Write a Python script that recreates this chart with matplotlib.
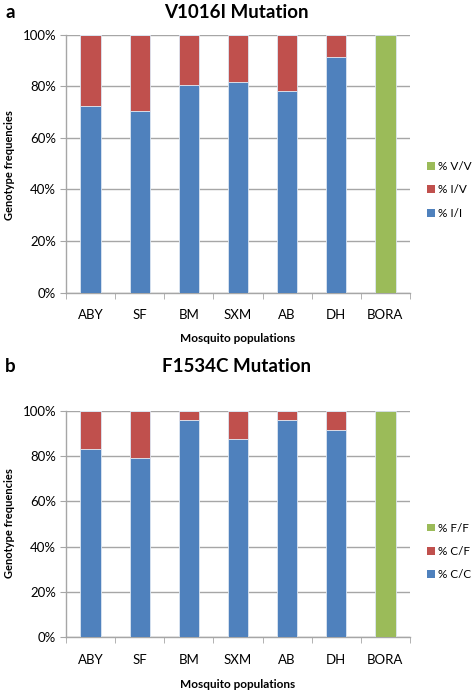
import matplotlib
matplotlib.use("Agg")
import matplotlib.pyplot as plt
from matplotlib.patches import Patch
import numpy as np

plt.rcParams['font.family'] = ['Lato', 'DejaVu Sans']

populations = ['ABY', 'SF', 'BM', 'SXM', 'AB', 'DH', 'BORA']

# Panel a: V1016I mutation (%)
v1016_II = [72.5, 70.5, 80.5, 81.6, 78.0, 91.4, 0]
v1016_IV = [27.5, 29.5, 19.5, 18.4, 22.0, 8.6, 0]
v1016_VV = [0, 0, 0, 0, 0, 0, 100]

# Panel b: F1534C mutation (%)
f1534_CC = [83.4, 79.2, 95.8, 87.7, 95.8, 91.8, 0]
f1534_CF = [16.6, 20.8, 4.2, 12.3, 4.2, 8.2, 0]
f1534_FF = [0, 0, 0, 0, 0, 0, 100]

yticks = [0, 20, 40, 60, 80, 100]
ytick_labels = ['0%', '20%', '40%', '60%', '80%', '100%']

BLUE = '#4F81BD'
RED = '#C0504D'
GREEN = '#9BBB59'
GRID = '#A6A6A6'

W, H = 473, 691
fig = plt.figure(figsize=(W / 100, H / 100), dpi=100)


def panel(rect, low, mid, high, labels, title, letter, title_y, legend_y, ylab_y, xlab_y):
    ax = fig.add_axes(rect)
    x = np.arange(len(populations))
    low = np.array(low)
    mid = np.array(mid)
    high = np.array(high)
    ec = dict(edgecolor='#DCE6F2', linewidth=0.6)
    ax.bar(x, low, width=0.41, color=BLUE, zorder=3, **ec)
    ax.bar(x, mid, width=0.41, bottom=low, color=RED, zorder=3, **ec)
    ax.bar(x, high, width=0.41, bottom=low + mid, color=GREEN, zorder=3, **ec)
    ax.set_xlim(-0.5, len(populations) - 0.5)
    ax.set_ylim(0, 100)
    ax.set_yticks(yticks)
    ax.set_yticklabels(ytick_labels, fontsize=9.5)
    ax.set_xticks(x)
    ax.set_xticklabels(populations, fontsize=9.5)
    ax.set_xticks(np.arange(-0.5, len(populations)), minor=True)
    ax.tick_params(axis='x', which='major', length=0, pad=12)
    ax.tick_params(axis='x', which='minor', length=4, color=GRID, direction='out')
    ax.tick_params(axis='y', length=4, color=GRID, pad=3)
    for s in ['top', 'right']:
        ax.spines[s].set_visible(False)
    for s in ['left', 'bottom']:
        ax.spines[s].set_color(GRID)
        ax.spines[s].set_linewidth(1.0)
    ax.yaxis.grid(True, color=GRID, linewidth=1.0, zorder=0)
    ax.set_axisbelow(True)
    fig.text(10 / W, 1 - ylab_y / H, 'Genotype frequencies', fontsize=8, fontweight='bold',
             rotation=90, ha='center', va='center')
    fig.text(238 / W, 1 - xlab_y / H, 'Mosquito populations', fontsize=8.5, fontweight='bold',
             ha='center', va='center')
    fig.text(0.5, 1 - title_y / H, title, fontsize=13.5, fontweight='bold', ha='center', va='center')
    fig.text(5 / W, 1 - title_y / H, letter, fontsize=13.5, fontweight='bold', ha='left', va='center')
    handles = [Patch(facecolor=GREEN), Patch(facecolor=RED), Patch(facecolor=BLUE)]
    fig.legend(handles, labels, loc='center left', bbox_to_anchor=(427 / W, 1 - legend_y / H),
               frameon=False, fontsize=8.5, handlelength=0.65, handleheight=0.65,
               handletextpad=0.25, labelspacing=1.05, borderpad=0, borderaxespad=0)
    return ax


panel([66 / W, 1 - 292.7 / H, 344 / W, 258 / H], v1016_II, v1016_IV, v1016_VV,
      ['% V/V', '% I/V', '% I/I'], 'V1016I Mutation', 'a', 12, 190, 165, 339)
panel([66 / W, 1 - 637 / H, 344 / W, 226 / H], f1534_CC, f1534_CF, f1534_FF,
      ['% F/F', '% C/F', '% C/C'], 'F1534C Mutation', 'b', 366, 551.5, 523, 684)

fig.savefig('out.png', dpi=100)
